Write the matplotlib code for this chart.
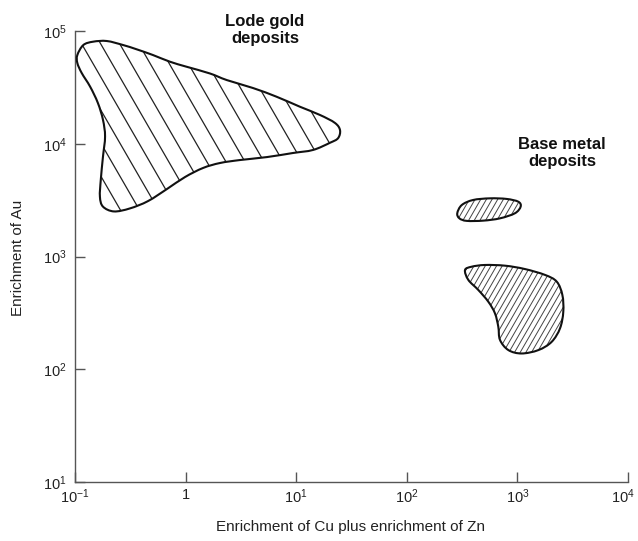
import numpy as np
import matplotlib
matplotlib.use("Agg")
import matplotlib.pyplot as plt
from matplotlib.patches import PathPatch
from matplotlib.path import Path
from matplotlib.collections import LineCollection
from matplotlib.transforms import IdentityTransform, ScaledTranslation

plt.rcParams["font.family"] = ["Liberation Sans", "DejaVu Sans"]
plt.rcParams["mathtext.fontset"] = "custom"
plt.rcParams["mathtext.rm"] = "Liberation Sans"
plt.rcParams["mathtext.it"] = "Liberation Sans:italic"
plt.rcParams["mathtext.bf"] = "Liberation Sans:bold"

# Field outlines: (Cu + Zn enrichment, Au enrichment)
lode_gold_x = [0.105, 0.119, 0.146, 0.194, 0.272, 0.361, 0.507, 0.722, 1.02, 1.66,
               2.36, 4.07, 6.66, 10.8, 16.4, 22.4, 24.9, 23.9, 20.2, 14.2,
               9.36, 5.45, 3.10, 2.05, 1.44, 0.989, 0.679, 0.457, 0.314, 0.225,
               0.179, 0.168, 0.171, 0.179, 0.187, 0.179, 0.161, 0.137, 0.115, 0.105]
lode_gold_y = [61200, 75100, 80400, 81500, 75100, 68800, 61200, 53400, 48200, 42000,
               36700, 31200, 26100, 21300, 18000, 15300, 13200, 11200, 10200, 8810,
               8280, 7620, 7170, 6750, 6100, 5070, 3970, 3100, 2670, 2510,
               2770, 3390, 4770, 7670, 11600, 16300, 23000, 32100, 42400, 52000]

base_upper_x = [286, 314, 397, 565, 800, 1020, 1070, 951, 696, 492, 348, 299]
base_upper_y = [2420, 2860, 3170, 3280, 3240, 3060, 2770, 2420, 2180, 2080, 2070, 2180]

base_lower_x = [336, 386, 509, 773, 1170, 1780, 2270, 2550, 2600, 2430, 2040,
                1550, 1090, 828, 696, 672, 627, 546, 443, 360]
base_lower_y = [759, 812, 841, 829, 774, 686, 598, 456, 324, 231, 175,
                148, 138, 148, 182, 238, 313, 397, 505, 620]

x_ticks = [1e-1, 1, 1e1, 1e2, 1e3, 1e4]
x_tick_labels = [r"$10^{-1}$", "1", r"$10^{1}$", r"$10^{2}$", r"$10^{3}$", r"$10^{4}$"]
y_ticks = [1e1, 1e2, 1e3, 1e4, 1e5]
y_tick_labels = [r"$10^{1}$", r"$10^{2}$", r"$10^{3}$", r"$10^{4}$", r"$10^{5}$"]

W, H, DPI = 638, 541, 100
fig = plt.figure(figsize=(W / DPI, H / DPI), dpi=DPI)
fig.patch.set_facecolor("white")
ax = fig.add_axes([75 / W, (H - 482) / H, 553 / W, 451 / H])
ax.set_xscale("log")
ax.set_yscale("log")
ax.set_xlim(1e-1, 1e4)
ax.set_ylim(1e1, 1e5)

axis_color = "#555555"
for side in ("top", "right"):
    ax.spines[side].set_visible(False)
for side in ("left", "bottom"):
    ax.spines[side].set_color(axis_color)
    ax.spines[side].set_linewidth(1.0)

ax.set_xticks(x_ticks)
ax.set_xticklabels(x_tick_labels)
ax.set_yticks(y_ticks)
ax.set_yticklabels(y_tick_labels)
ax.minorticks_off()
ax.tick_params(axis="both", which="major", direction="in", length=7, width=1.0,
               color=axis_color, labelsize=10.5, labelcolor="#222222")
ax.tick_params(axis="x", pad=4)
ax.tick_params(axis="y", pad=6)

# keep the last x label inside the canvas
last_label = ax.get_xticklabels()[-1]
last_label.set_transform(last_label.get_transform()
                         + ScaledTranslation(-4 / 72, 0, fig.dpi_scale_trans))


def smooth_closed_path(xs, ys):
    """Closed cubic Bezier outline through the vertices (built in log space)."""
    p = np.log10(np.column_stack([xs, ys]))
    n = len(p)
    verts = [p[0]]
    codes = [Path.MOVETO]
    for i in range(n):
        p0, p1, p2, p3 = p[i - 1], p[i], p[(i + 1) % n], p[(i + 2) % n]
        verts += [p1 + (p2 - p0) / 6.0, p2 - (p3 - p1) / 6.0, p2]
        codes += [Path.CURVE4] * 3
    verts.append(p[0])
    codes.append(Path.CLOSEPOLY)
    return Path(10 ** np.array(verts), codes)


def hatched_field(xs, ys, angle_deg, spacing_px, hatch_lw, hatch_color):
    path = smooth_closed_path(xs, ys)
    outline = PathPatch(path, facecolor="none", edgecolor="#111111",
                        linewidth=1.5, joinstyle="round", zorder=4)
    ax.add_patch(outline)
    pts = ax.transData.transform(np.column_stack([xs, ys]))
    centre = pts.mean(axis=0)
    reach = np.hypot(*(pts.max(axis=0) - pts.min(axis=0)))
    a = np.deg2rad(angle_deg)
    d = np.array([np.cos(a), np.sin(a)])
    nrm = np.array([-np.sin(a), np.cos(a)])
    segs = []
    for t in np.arange(-reach, reach, spacing_px):
        c = centre + t * nrm
        segs.append([c - reach * d, c + reach * d])
    lc = LineCollection(segs, colors=hatch_color, linewidths=hatch_lw,
                        transform=IdentityTransform(), zorder=3)
    ax.add_collection(lc, autolim=False)
    lc.set_clip_path(outline)
    return outline


hatched_field(lode_gold_x, lode_gold_y, -60, 16.5, 0.9, "#222222")
hatched_field(base_upper_x, base_upper_y, 60, 4.9, 0.7, "#444444")
hatched_field(base_lower_x, base_lower_y, 60, 4.9, 0.7, "#444444")

ax.text(0.3436, 1.002, "Lode gold\ndeposits", transform=ax.transAxes,
        ha="center", va="center", fontsize=12, fontweight="bold",
        linespacing=1.15, color="#111111")
ax.text(0.8807, 0.7295, "Base metal\ndeposits", transform=ax.transAxes,
        ha="center", va="center", fontsize=12, fontweight="bold",
        linespacing=1.15, color="#111111")

fig.text(351 / W, 1 - 527 / H, "Enrichment of Cu plus enrichment of Zn",
         ha="center", va="center", fontsize=11, color="#222222")
fig.text(18 / W, 1 - 258 / H, "Enrichment of Au", rotation=90,
         ha="center", va="center", fontsize=11, color="#222222")

fig.savefig("out.png", dpi=DPI, facecolor="white")
